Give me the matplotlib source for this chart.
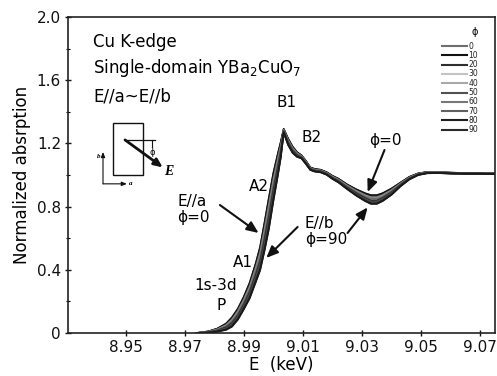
import matplotlib
matplotlib.use("Agg")
import matplotlib.pyplot as plt
from matplotlib.lines import Line2D
from matplotlib.patches import Rectangle, FancyArrowPatch

plt.rcParams['font.family'] = ['DejaVu Sans']
plt.rcParams['mathtext.fontset'] = 'dejavusans'

# Photon energy (keV)
energy = [8.974, 8.978, 8.981, 8.984, 8.986, 8.988, 8.990, 8.992, 8.994, 8.9955,
          8.997, 8.9985, 9.000, 9.0015, 9.0025, 9.0035, 9.005, 9.0065, 9.008, 9.0095,
          9.011, 9.0125, 9.014, 9.016, 9.018, 9.020, 9.022, 9.025, 9.028, 9.031,
          9.033, 9.035, 9.037, 9.040, 9.043, 9.046, 9.049, 9.052, 9.056, 9.060,
          9.065, 9.070, 9.075]

# Normalized absorption for each polarization angle phi (deg)
mu_phi00 = [0.000, .010, .028, .060, .100, .155, .230, .320, .440, .545, .700, .860, 1.015, 1.135, 1.210, 1.292,
            1.230, 1.180, 1.145, 1.125, 1.090, 1.048, 1.038, 1.033, 1.018, .995, .977, .940, .910, .885, .873, .873, .885, .915, .952, .988, 1.010, 1.019, 1.018, 1.015, 1.012, 1.012, 1.010]
mu_phi10 = [0.000, .010, .027, .059, .098, .153, .228, .317, .436, .541, .695, .854, 1.010, 1.131, 1.207, 1.291,
            1.229, 1.179, 1.144, 1.124, 1.089, 1.048, 1.038, 1.033, 1.018, .994, .976, .939, .909, .884, .871, .871, .884, .914, .951, .988, 1.010, 1.019, 1.018, 1.015, 1.012, 1.012, 1.010]
mu_phi20 = [0.000, .009, .026, .055, .093, .147, .221, .309, .426, .528, .679, .837, .994, 1.119, 1.199, 1.289,
            1.225, 1.175, 1.142, 1.123, 1.088, 1.046, 1.036, 1.031, 1.016, .993, .974, .937, .905, .879, .867, .867, .879, .910, .949, .986, 1.009, 1.018, 1.017, 1.014, 1.012, 1.012, 1.010]
mu_phi30 = [0.000, .008, .023, .050, .085, .138, .210, .295, .410, .508, .655, .810, .970, 1.100, 1.185, 1.286,
            1.220, 1.170, 1.138, 1.120, 1.085, 1.044, 1.034, 1.029, 1.014, .990, .971, .933, .900, .873, .859, .859, .873, .905, .946, .984, 1.008, 1.017, 1.017, 1.014, 1.011, 1.011, 1.009]
mu_phi40 = [0.000, .007, .020, .043, .075, .126, .197, .279, .390, .483, .625, .777, .940, 1.077, 1.169, 1.282,
            1.213, 1.163, 1.133, 1.117, 1.082, 1.041, 1.031, 1.026, 1.011, .987, .967, .928, .893, .864, .850, .850, .864, .898, .942, .981, 1.006, 1.016, 1.016, 1.013, 1.010, 1.010, 1.008]
mu_phi50 = [0.000, .005, .016, .037, .065, .114, .183, .262, .370, .457, .595, .743, .910, 1.053, 1.152, 1.278,
            1.207, 1.157, 1.127, 1.113, 1.078, 1.039, 1.029, 1.024, 1.009, .983, .963, .922, .887, .856, .840, .840, .856, .892, .938, .979, 1.004, 1.014, 1.014, 1.011, 1.010, 1.010, 1.008]
mu_phi60 = [0.000, .004, .013, .030, .055, .103, .170, .245, .350, .433, .565, .710, .880, 1.030, 1.135, 1.274,
            1.200, 1.150, 1.122, 1.110, 1.075, 1.036, 1.026, 1.021, 1.006, .980, .959, .917, .880, .848, .831, .831, .848, .885, .934, .976, 1.003, 1.013, 1.014, 1.011, 1.009, 1.009, 1.007]
mu_phi70 = [0.000, .003, .010, .025, .047, .093, .159, .232, .334, .412, .541, .683, .856, 1.011, 1.122, 1.271,
            1.195, 1.145, 1.118, 1.107, 1.072, 1.034, 1.024, 1.019, 1.004, .977, .956, .913, .875, .841, .823, .823, .841, .880, .931, .974, 1.001, 1.012, 1.013, 1.010, 1.008, 1.008, 1.006]
mu_phi80 = [0.000, .002, .009, .021, .042, .087, .152, .223, .324, .400, .525, .666, .840, .999, 1.113, 1.269,
            1.191, 1.141, 1.116, 1.106, 1.071, 1.032, 1.022, 1.017, 1.002, .976, .954, .911, .871, .837, .819, .819, .837, .876, .929, .972, 1.000, 1.011, 1.012, 1.009, 1.008, 1.008, 1.006]
mu_phi90 = [0.000, .002, .008, .020, .040, .085, .150, .220, .320, .395, .520, .660, .835, .995, 1.110, 1.268,
            1.190, 1.140, 1.115, 1.105, 1.070, 1.032, 1.022, 1.017, 1.002, .975, .953, .910, .870, .835, .817, .817, .835, .875, .928, .972, 1.000, 1.011, 1.012, 1.009, 1.008, 1.008, 1.006]

phi_labels = ['0', '10', '20', '30', '40', '50', '60', '70', '80', '90']
x_ticks = [8.95, 8.97, 8.99, 9.01, 9.03, 9.05, 9.07]
y_ticks = [0, 0.4, 0.8, 1.2, 1.6, 2.0]
y_ticklabels = ['0', '0.4', '0.8', '1.2', '1.6', '2.0']

series = [mu_phi00, mu_phi10, mu_phi20, mu_phi30, mu_phi40,
          mu_phi50, mu_phi60, mu_phi70, mu_phi80, mu_phi90]
curve_colors = ['#3a3a3a', '#0a0a0a', '#202020', '#8a8a8a', '#707070',
                '#303030', '#444444', '#3c3c3c', '#141414', '#1a1a1a']
key_colors = ['#6e6e6e', '#111111', '#2e2e2e', '#c4c4c4', '#a8a8a8',
              '#505050', '#787878', '#606060', '#1e1e1e', '#2a2a2a']

fig = plt.figure(figsize=(4.97, 3.76), dpi=100)
ax = fig.add_axes([0.1368, 0.1144, 0.8592, 0.8404])

for mu, col in zip(series, curve_colors):
    ax.plot(energy, mu, color=col, lw=1.2, solid_joinstyle='round')

ax.set_xlim(8.9305, 9.075)
ax.set_ylim(0, 2.0)
ax.set_xticks(x_ticks)
ax.set_xticklabels([f'{v:.2f}' for v in x_ticks])
ax.set_yticks(y_ticks)
ax.set_yticklabels(y_ticklabels)
ax.set_yticks([0.2, 0.6, 1.0, 1.4, 1.8], minor=True)
ax.tick_params(axis='both', which='major', direction='inout', length=4, width=1.0,
               labelsize=11, colors='#111111', pad=3)
ax.tick_params(axis='y', which='minor', direction='inout', length=2.5, width=0.8)
for s in ax.spines.values():
    s.set_linewidth(1.2)
    s.set_color('#222222')

ax.set_xlabel('E  (keV)', fontsize=12, labelpad=1)
ax.set_ylabel('Normalized absrption', fontsize=12, labelpad=4)

# Header text
ax.text(0.0585, 0.921, 'Cu K-edge', transform=ax.transAxes, fontsize=12, va='center')
ax.text(0.0585, 0.839, r'Single-domain YBa$\mathregular{_2}$CuO$\mathregular{_7}$',
        transform=ax.transAxes, fontsize=12, va='center')
ax.text(0.0585, 0.747, 'E//a~E//b', transform=ax.transAxes, fontsize=12, va='center')

# Sample sketch with polarization vector
ax.add_patch(Rectangle((0.105, 0.50), 0.071, 0.165, transform=ax.transAxes,
                       fill=False, lw=1.0, ec='#111111'))
ax.add_line(Line2D([0.1335, 0.204], [0.611, 0.611], transform=ax.transAxes,
                   color='#111111', lw=0.9))
ax.add_line(Line2D([0.197, 0.197], [0.611, 0.590], transform=ax.transAxes,
                   color='#111111', lw=0.8))
ax.add_patch(FancyArrowPatch((0.1335, 0.611), (0.222, 0.524), transform=ax.transAxes,
                             arrowstyle='-|>,head_length=5,head_width=2.2',
                             lw=2.0, color='#111111', shrinkA=0, shrinkB=0))
ax.text(0.197, 0.585, 'ϕ', transform=ax.transAxes, fontsize=6, ha='center', va='top')
ax.text(0.226, 0.512, 'E', transform=ax.transAxes, fontsize=10, ha='left', va='center',
        family='Liberation Serif', style='italic', weight='bold')
ax.add_patch(FancyArrowPatch((0.082, 0.472), (0.082, 0.573), transform=ax.transAxes,
                             arrowstyle='-|>,head_length=3,head_width=1.2',
                             lw=0.8, color='#111111', shrinkA=0, shrinkB=0))
ax.add_patch(FancyArrowPatch((0.082, 0.472), (0.138, 0.472), transform=ax.transAxes,
                             arrowstyle='-|>,head_length=3,head_width=1.2',
                             lw=0.8, color='#111111', shrinkA=0, shrinkB=0))
ax.text(0.072, 0.560, 'b', transform=ax.transAxes, fontsize=5, ha='center', va='center',
        family='Liberation Serif', style='italic', weight='bold')
ax.text(0.146, 0.472, 'a', transform=ax.transAxes, fontsize=5, ha='center', va='center',
        family='Liberation Serif', style='italic', weight='bold')

# Feature labels
ax.text(9.0045, 1.46, 'B1', fontsize=11, ha='center', va='center')
ax.text(9.0130, 1.24, 'B2', fontsize=11, ha='center', va='center')
ax.text(8.9950, 0.925, 'A2', fontsize=11, ha='center', va='center')
ax.text(8.9897, 0.449, 'A1', fontsize=11, ha='center', va='center')
ax.text(8.9805, 0.300, '1s-3d', fontsize=11, ha='center', va='center')
ax.text(8.9822, 0.177, 'P', fontsize=11, ha='center', va='center')

ax.text(8.9674, 0.83, 'E//a', fontsize=11, ha='left', va='center')
ax.text(8.9674, 0.73, 'ϕ=0', fontsize=11, ha='left', va='center')
ax.text(9.0106, 0.696, 'E//b', fontsize=11, ha='left', va='center')
ax.text(9.0106, 0.589, 'ϕ=90', fontsize=11, ha='left', va='center')
ax.text(9.0380, 1.22, 'ϕ=0', fontsize=11, ha='center', va='center')

arrow_kw = dict(arrowstyle='-|>,head_length=7,head_width=3', lw=1.5,
                color='#111111', shrinkA=0, shrinkB=0)
ax.add_patch(FancyArrowPatch((8.9819, 0.81), (8.9950, 0.633), **arrow_kw))
ax.add_patch(FancyArrowPatch((9.0082, 0.671), (8.9976, 0.475), **arrow_kw))
ax.add_patch(FancyArrowPatch((9.0251, 0.633), (9.0319, 0.795), **arrow_kw))
ax.add_patch(FancyArrowPatch((9.0376, 1.158), (9.0319, 0.892), **arrow_kw))

# Angle key
ax.text(0.953, 0.953, 'ϕ', transform=ax.transAxes, fontsize=7, ha='center', va='center')
for i, (lab, col) in enumerate(zip(phi_labels, key_colors)):
    yk = 0.908 - i * 0.0294
    ax.add_line(Line2D([0.876, 0.934], [yk, yk], transform=ax.transAxes,
                       color=col, lw=1.5))
    ax.text(0.938, yk, lab, transform=ax.transAxes, fontsize=5.5,
            ha='left', va='center', color='#222222')

fig.savefig('out.png', dpi=100)
